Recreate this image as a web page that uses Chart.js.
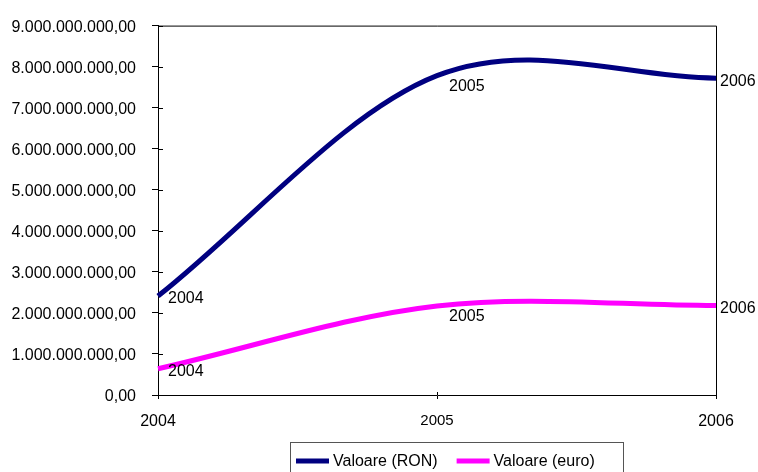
<!DOCTYPE html>
<html>
<head>
<meta charset="utf-8">
<script src="https://cdn.jsdelivr.net/npm/chart.js@4.4.1/dist/chart.umd.min.js"></script>
<style>
  html, body { margin: 0; padding: 0; background: #fff; }
  #wrap { width: 758px; height: 472px; position: relative; }
</style>
</head>
<body>
<div id="wrap"><canvas id="c" width="758" height="472"></canvas></div>
<script>
// Years on the category axis
const years = ['2004', '2005', '2006'];
// Series values
const valoareRON = [2410000000, 7780000000, 7720000000];
const valoareEuro = [640000000, 2170000000, 2180000000];
// Value axis range
const yMin = 0;
const yMax = 9000000000;
const yStep = 1000000000;

const FONT = "'Liberation Sans', Arial, sans-serif";

// Romanian number format: 9.000.000.000,00
function fmtRo(v) {
  const parts = Math.round(v).toString().replace(/\B(?=(\d{3})+(?!\d))/g, '.');
  return parts + ',00';
}

// Office-style smoothing: tangents from neighbouring points (1/6), ends at 1/3 of the chord
const smoothLines = {
  id: 'smoothLines',
  beforeDatasetDraw(chart, args) {
    const meta = args.meta;
    const line = meta.dataset;
    if (!line) return;
    line.updateControlPoints(chart.chartArea, meta.iScale.axis);
    const pts = meta.data;
    const n = pts.length;
    for (let i = 0; i < n; i++) {
      const p = pts[i];
      const prev = pts[i - 1];
      const next = pts[i + 1];
      if (prev && next) {
        const tx = (next.x - prev.x) / 6;
        const ty = (next.y - prev.y) / 6;
        p.cp1x = p.x - tx; p.cp1y = p.y - ty;
        p.cp2x = p.x + tx; p.cp2y = p.y + ty;
      } else if (next) {
        p.cp2x = p.x + (next.x - p.x) / 3;
        p.cp2y = p.y + (next.y - p.y) / 3;
        p.cp1x = p.x; p.cp1y = p.y;
      } else if (prev) {
        p.cp1x = p.x - (p.x - prev.x) / 3;
        p.cp1y = p.y - (p.y - prev.y) / 3;
        p.cp2x = p.x; p.cp2y = p.y;
      }
    }
  }
};

// Category label next to each point
const pointLabels = {
  id: 'pointLabels',
  afterDatasetsDraw(chart) {
    const ctx = chart.ctx;
    const offsets = [[10, 3], [12, 11], [4, 3]];
    ctx.save();
    ctx.font = '16px ' + FONT;
    ctx.fillStyle = '#000';
    ctx.textAlign = 'left';
    ctx.textBaseline = 'middle';
    chart.data.datasets.forEach((ds, di) => {
      const meta = chart.getDatasetMeta(di);
      meta.data.forEach((pt, i) => {
        const o = offsets[i];
        ctx.fillText(chart.data.labels[i], pt.x + o[0], pt.y + o[1]);
      });
    });
    ctx.restore();
  }
};

// Plot frame (top/right) and tick marks crossing into the plot
const frame = {
  id: 'frame',
  afterDraw(chart) {
    const { ctx, chartArea: a, scales } = chart;
    ctx.save();
    ctx.strokeStyle = '#000';
    ctx.lineWidth = 1;
    ctx.beginPath();
    ctx.moveTo(a.left, a.top + 0.5);
    ctx.lineTo(a.right + 0.5, a.top + 0.5);
    ctx.lineTo(a.right + 0.5, a.bottom);
    ctx.stroke();
    ctx.beginPath();
    scales.y.ticks.forEach(t => {
      const y = Math.round(scales.y.getPixelForValue(t.value)) + 0.5;
      ctx.moveTo(a.left, y);
      ctx.lineTo(a.left + 5, y);
    });
    scales.x.ticks.forEach((t, i) => {
      const x = Math.round(scales.x.getPixelForTick(i)) + 0.5;
      ctx.moveTo(x, a.bottom);
      ctx.lineTo(x, a.bottom - 3);
    });
    ctx.stroke();
    ctx.restore();
  }
};

// Boxed legend under the plot
const boxLegend = {
  id: 'boxLegend',
  afterDraw(chart) {
    const ctx = chart.ctx;
    ctx.save();
    ctx.strokeStyle = '#555';
    ctx.lineWidth = 1;
    ctx.strokeRect(290.5, 442.5, 333, 40);
    ctx.font = '16px ' + FONT;
    ctx.textBaseline = 'middle';
    ctx.textAlign = 'left';
    let x = 296;
    const y = 461;
    chart.data.datasets.forEach(ds => {
      ctx.strokeStyle = ds.borderColor;
      ctx.lineWidth = 5;
      ctx.beginPath();
      ctx.moveTo(x, y);
      ctx.lineTo(x + 33, y);
      ctx.stroke();
      x += 37;
      ctx.fillStyle = '#000';
      ctx.fillText(ds.label, x, y + 1);
      x += ctx.measureText(ds.label).width + 19;
    });
    ctx.restore();
  }
};

new Chart(document.getElementById('c'), {
  type: 'line',
  data: {
    labels: years,
    datasets: [
      {
        label: 'Valoare (RON)',
        data: valoareRON,
        borderColor: '#000080',
        borderWidth: 5,
        pointRadius: 0,
        tension: 0.4,
        fill: false
      },
      {
        label: 'Valoare (euro)',
        data: valoareEuro,
        borderColor: '#FF00FF',
        borderWidth: 5,
        pointRadius: 0,
        tension: 0.4,
        fill: false
      }
    ]
  },
  options: {
    responsive: false,
    animation: false,
    devicePixelRatio: 1,
    layout: { padding: { top: 21, right: 42, left: 0, bottom: 0 } },
    plugins: {
      legend: { display: false },
      tooltip: { enabled: false }
    },
    scales: {
      x: {
        type: 'category',
        offset: false,
        grid: { display: true, drawOnChartArea: false, drawTicks: true, tickLength: 4, color: '#000' },
        border: { display: true, color: '#000', width: 1 },
        ticks: {
          color: '#000',
          padding: 13,
          maxRotation: 0,
          autoSkip: false,
          font: (c) => ({ family: FONT, size: c.index === 1 ? 15 : 16 })
        },
        afterFit: (s) => { s.height = 77; }
      },
      y: {
        min: yMin,
        max: yMax,
        grid: { display: true, drawOnChartArea: false, drawTicks: true, tickLength: 6, color: '#000' },
        border: { display: true, color: '#000', width: 1 },
        ticks: {
          stepSize: yStep,
          color: '#000',
          padding: 16,
          labelOffset: 2,
          font: { family: FONT, size: 16 },
          callback: (v) => fmtRo(v)
        },
        afterFit: (s) => { s.width = 158; }
      }
    }
  },
  plugins: [smoothLines, pointLabels, frame, boxLegend]
});
</script>
</body>
</html>
